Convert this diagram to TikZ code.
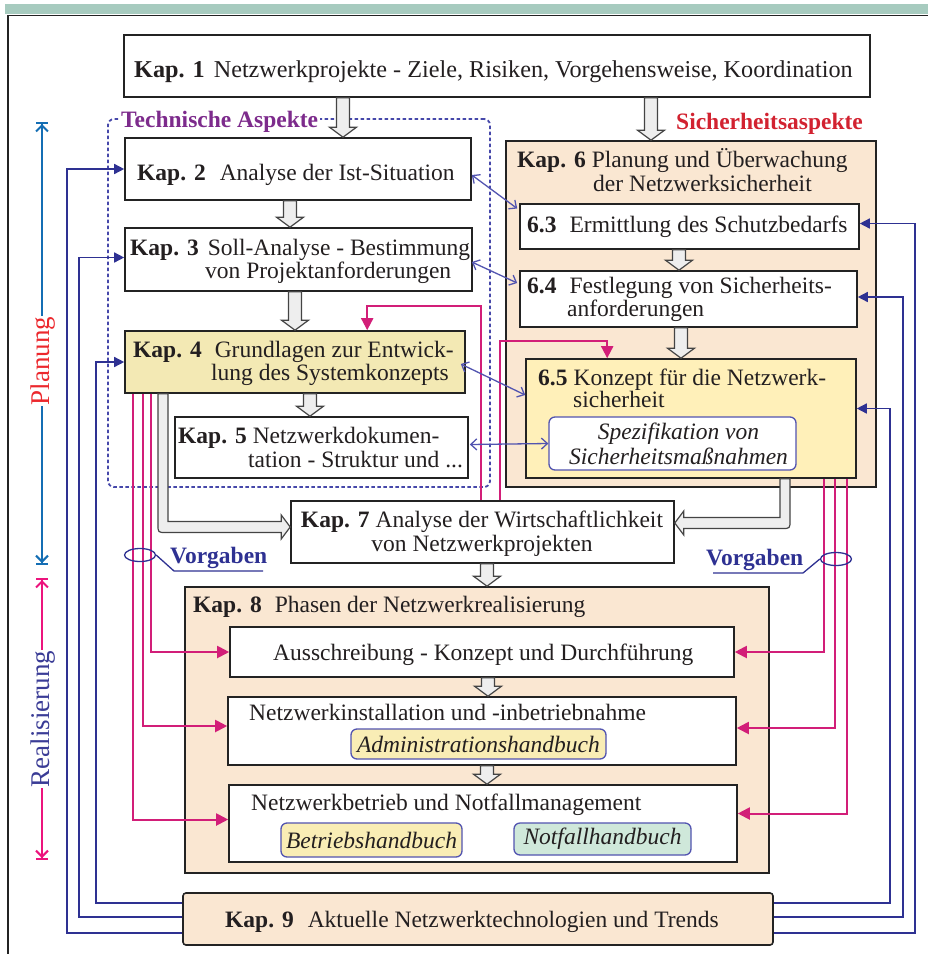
\documentclass[tikz,border=0pt]{standalone}
\usepackage{fontspec}
\setmainfont{Liberation Serif}
\usetikzlibrary{arrows.meta,calc,fit,shapes.geometric}
\definecolor{navy}{RGB}{46,49,146}
\definecolor{dblue}{RGB}{82,84,176}
\definecolor{dashc}{RGB}{70,72,170}
\definecolor{magc}{RGB}{210,30,120}
\definecolor{axblue}{RGB}{20,110,180}
\definecolor{axpink}{RGB}{236,20,125}
\definecolor{plred}{RGB}{236,40,45}
\definecolor{renavy}{RGB}{58,60,150}
\definecolor{purp}{RGB}{125,43,140}
\definecolor{sred}{RGB}{210,34,48}
\definecolor{peach}{RGB}{250,231,210}
\definecolor{khaki}{RGB}{243,233,180}
\definecolor{lyell}{RGB}{255,240,185}
\definecolor{hbyell}{RGB}{249,237,181}
\definecolor{mint}{RGB}{207,232,218}
\definecolor{band}{RGB}{167,203,191}
\definecolor{blkfill}{RGB}{238,238,238}
\definecolor{edge}{RGB}{35,35,35}
\definecolor{txt}{RGB}{35,31,32}
\newcommand\vblk[3]{\draw[blk] let \p1=(#2), \p2=(#3) in (#1pt-6.5pt,\y1) -- (#1pt+6.5pt,\y1) -- (#1pt+6.5pt,\y2+10pt) -- (#1pt+13.5pt,\y2+10pt) -- (#1pt,\y2) -- (#1pt-13.5pt,\y2+10pt) -- (#1pt-6.5pt,\y2+10pt) -- cycle;}
\begin{document}
\begin{tikzpicture}[x=1pt,y=-1pt,font=\fontsize{23.5}{24}\selectfont,text=txt,
 box/.style={draw=edge,line width=1.6pt,inner sep=0pt,fill=white},
 hb/.style={draw=dblue,line width=1.3pt,rounded corners=6pt,inner sep=0pt,font=\fontsize{23.5}{25}\selectfont\itshape,align=center},
 lbl/.style={anchor=base west,inner sep=0pt},
 nav/.style={draw=navy,line width=1.5pt,-{Triangle[length=10pt,width=10pt]}},
 magl/.style={draw=magc,line width=2pt,-{Triangle[length=12pt,width=12pt]}},
 dbl/.style={draw=dblue,line width=1.3pt,{Straight Barb[length=6pt,width=11pt]}-{Straight Barb[length=6pt,width=11pt]}},
 blk/.style={draw=edge!85,fill=blkfill,line width=1.2pt,line join=miter},
 vg/.style={anchor=base west,inner sep=0pt,text=navy,font=\fontsize{23.5}{24}\selectfont\bfseries}]
\useasboundingbox (0,0) rectangle (928,954);
% background frame
\fill[band] (5,4) rectangle (928,14);
\draw[edge,line width=1.5pt] (8,954) -- (8,15.5) -- (928,15.5);
% technical aspects region
\node[fit={(108,119) (490,487)},inner sep=0pt,draw=dashc,dash pattern=on 3.5pt off 2.5pt,line width=1.8pt,rounded corners=6pt] (tech) {};
% boxes
\node[box,fit={(124,35) (870,97)}] (k1) {};
\node[box,fit={(125,138) (471,200)}] (k2) {};
\node[box,fit={(125,228) (472,291)}] (k3) {};
\node[box,fill=khaki,fit={(125,331) (465,393)}] (k4) {};
\node[box,fit={(175,417) (468,478)}] (k5) {};
\node[box,fill=peach,fit={(506,141) (876,487)}] (k6) {};
\node[box,fit={(520,204) (859,249)}] (k63) {};
\node[box,fit={(520,271) (857,327)}] (k64) {};
\node[box,fill=lyell,fit={(526,359) (856,478)}] (k65) {};
\node[hb,fill=white,minimum width=247pt,minimum height=53pt] (spec) at (672.5,443.5) {\hspace*{12pt}Spezifikation von\\\hspace*{12pt}Sicherheitsmaßnahmen};
\node[box,fit={(291,501) (674,563)}] (k7) {};
\node[box,fill=peach,fit={(185,587) (769,873)}] (k8) {};
\node[box,fit={(230,627) (734,677)}] (s1) {};
\node[box,fit={(228,697) (736,765)}] (s2) {};
\node[box,fit={(229,785) (737,862)}] (s3) {};
\node[hb,fill=hbyell,minimum width=255pt,minimum height=30pt] (adm) at (478.5,744) {Administrationshandbuch};
\node[hb,fill=hbyell,minimum width=181pt,minimum height=34pt] (betr) at (371.5,840) {Betriebshandbuch};
\node[hb,fill=mint,minimum width=177pt,minimum height=32pt] (notf) at (602.5,839) {Notfallhandbuch};
\node[box,fill=peach,rounded corners=3pt,fit={(183,893) (773,945)}] (k9) {};
% block arrows
\vblk{343}{k1.south}{k2.north}
\vblk{651}{k1.south}{k6.north}
\vblk{290}{k2.south}{k3.north}
\vblk{295}{k3.south}{k4.north}
\vblk{310}{k4.south}{k5.north}
\vblk{679}{k63.south}{k64.north}
\vblk{681}{k64.south}{k65.north}
\vblk{487}{k7.south}{k8.north}
\vblk{488}{s1.south}{s2.north}
\vblk{487}{s2.south}{s3.north}
\draw[blk] let \p1=(k4.south), \p2=($(k7.west)+(0,-5)$) in
 (168pt,\y1) -- (168pt,\y2+5.5pt) -- (\x2-9pt,\y2+5.5pt) -- (\x2-9pt,\y2+12pt) -- (\x2,\y2) -- (\x2-9pt,\y2-12pt) -- (\x2-9pt,\y2-5.5pt) -- (166pt,\y2-5.5pt) .. controls (158pt,\y2-5.5pt) .. (158pt,\y2+2.5pt) -- (158pt,\y1) -- cycle;
\draw[blk] let \p1=(k65.south), \p2=($(k7.east)+(0,-9)$) in
 (780pt,\y1) -- (780pt,\y2+5.5pt) -- (\x2+9pt,\y2+5.5pt) -- (\x2+9pt,\y2+12pt) -- (\x2,\y2) -- (\x2+9pt,\y2-12pt) -- (\x2+9pt,\y2-5.5pt) -- (782pt,\y2-5.5pt) .. controls (790pt,\y2-5.5pt) .. (790pt,\y2+2.5pt) -- (790pt,\y1) -- cycle;
% navy feedback lines from Kap 9
\draw[nav] ($(k9.west)+(0,14)$) -| ($(k2.west)+(-57,0)$) -- (k2.west);
\draw[nav] ($(k9.west)+(0,-2)$) -| ($(k3.west)+(-45,-2)$) -- ($(k3.west)+(0,-2)$);
\draw[nav] ($(k9.west)+(0,-16)$) -| ($(k4.west)+(-28,0)$) -- (k4.west);
\draw[nav] ($(k9.east)+(0,-16)$) -| ($(k65.east)+(33,-10)$) -- ($(k65.east)+(0,-10)$);
\draw[nav] ($(k9.east)+(0,-2)$) -| ($(k64.east)+(45,-2)$) -- ($(k64.east)+(0,-2)$);
\draw[nav] ($(k9.east)+(0,14)$) -| ($(k63.east)+(55,-3)$) -- ($(k63.east)+(0,-3)$);
% magenta lines (Vorgaben)
\draw[magl] ($(k4.south west)+(27,0)$) |- (s1.west);
\draw[magl] ($(k4.south west)+(19,0)$) |- ($(s2.west)+(0,-5)$);
\draw[magl] ($(k4.south west)+(9,0)$) |- ($(s3.west)+(0,-4)$);
\draw[magl] ($(k65.south west)+(299,0)$) |- (s1.east);
\draw[magl] ($(k65.south west)+(310,0)$) |- ($(s2.east)+(0,-3)$);
\draw[magl] ($(k65.south west)+(322,0)$) |- ($(s3.east)+(0,-10)$);
\draw[magl] ($(k7.north west)+(191,0)$) |- ($(k4.north west)+(243,-24)$) -- ($(k4.north west)+(243,0)$);
\draw[magl] ($(k7.north west)+(210,0)$) |- ($(k65.north west)+(82,-17)$) -- ($(k65.north west)+(82,0)$);
% double arrows
\draw[dbl] ($(k2.east)+(0,6)$) -- ($(k63.west)+(-2,-18)$);
\draw[dbl] ($(k3.east)+(-1,2.5)$) -- ($(k64.west)+(-2,-16)$);
\draw[dbl] ($(k4.east)+(-5,2)$) -- ($(k65.west)+(0,-23.5)$);
\draw[dbl] ($(k5.east)+(1,-3)$) -- (spec.west);
% Vorgaben callouts
\node[ellipse,draw=navy,line width=1.3pt,minimum width=31pt,minimum height=13pt,inner sep=0pt] (ovL) at (140,555) {};
\node[ellipse,draw=navy,line width=1.3pt,minimum width=31pt,minimum height=13pt,inner sep=0pt] (ovR) at (836,559) {};
\node[vg] (vgL) at (170,563) {Vorgaben};
\node[vg] (vgR) at (706,565) {Vorgaben};
\draw[navy,line width=1.3pt] (ovL.east) -- (174,571) -- (263,571);
\draw[navy,line width=1.3pt] (ovR.west) -- (803,573) -- (713,573);
% phase axis
\coordinate (plT) at (42,122); \coordinate (plB) at (42,565);
\coordinate (reT) at (42,578); \coordinate (reB) at (42,860);
\draw[axblue,line width=2pt,{Bar[width=12pt]Straight Barb[length=6pt,width=12pt]}-{Straight Barb[length=6pt,width=12pt]Bar[width=12pt]}] (plT) -- (plB);
\draw[axpink,line width=2pt,{Bar[width=12pt]Straight Barb[length=6pt,width=12pt]}-{Straight Barb[length=6pt,width=12pt]Bar[width=12pt]}] (reT) -- (reB);
\node[rotate=90,fill=white,inner sep=1pt,text=plred,font=\fontsize{27}{27}\selectfont] (plan) at (43,361) {Planung};
\node[rotate=90,fill=white,inner sep=1pt,text=renavy,font=\fontsize{27}{27}\selectfont] (real) at (43,719) {Realisierung};
% headings
\node[lbl,fill=white,inner xsep=2pt,text=purp,font=\fontsize{23.5}{24}\selectfont\bfseries] (ta) at (119,127) {Technische Aspekte};
\node[lbl,text=sred,font=\fontsize{23.5}{24}\selectfont\bfseries] (sa) at (676,129) {Sicherheitsaspekte};
% box texts
\node[lbl,font=\fontsize{24.2}{25}\selectfont] (t1) at (134,77) {\textbf{Kap. 1}\hspace{9pt}Netzwerkprojekte - Ziele, Risiken, Vorgehensweise, Koordination};
\node[lbl] (t2) at (137,180) {\textbf{Kap. 2}\hspace{14pt}Analyse der Ist-Situation};
\node[lbl] (t3a) at (130,255) {\textbf{Kap. 3}\hspace{9pt}Soll-Analyse - Bestimmung};
\node[lbl] (t3b) at (205,278) {von Projektanforderungen};
\node[lbl] (t4a) at (133,357) {\textbf{Kap. 4}\hspace{13pt}Grundlagen zur Entwick-};
\node[lbl] (t4b) at (211,380) {lung des Systemkonzepts};
\node[lbl] (t5a) at (178,443) {\textbf{Kap. 5}\hspace{6pt}Netzwerkdokumen-};
\node[lbl] (t5b) at (248,467) {tation - Struktur und ...};
\node[lbl] (t6a) at (517,167) {\textbf{Kap. 6}\hspace{6pt}Planung und Überwachung};
\node[lbl] (t6b) at (593,191) {der Netzwerksicherheit};
\node[lbl] (t63) at (527,232) {\textbf{6.3}\hspace{13pt}Ermittlung des Schutzbedarfs};
\node[lbl] (t64a) at (527,293) {\textbf{6.4}\hspace{13pt}Festlegung von Sicherheits-};
\node[lbl] (t64b) at (567,316) {anforderungen};
\node[lbl] (t65a) at (538,385) {\textbf{6.5}\hspace{6pt}Konzept für die Netzwerk-};
\node[lbl] (t65b) at (573,407) {sicherheit};
\node[anchor=base,inner sep=0pt] (t7a) at (482,527) {\textbf{Kap. 7}\hspace{6pt}Analyse der Wirtschaftlichkeit};
\node[anchor=base,inner sep=0pt] (t7b) at (482,551) {von Netzwerkprojekten};
\node[lbl] (t8) at (193,612) {\textbf{Kap. 8}\hspace{13pt}Phasen der Netzwerkrealisierung};
\node[lbl] (ts1) at (273,660) {Ausschreibung - Konzept und Durchführung};
\node[lbl] (ts2) at (249,720) {Netzwerkinstallation und -inbetriebnahme};
\node[lbl] (ts3) at (251,810) {Netzwerkbetrieb und Notfallmanagement};
\node[lbl] (t9) at (225,927) {\textbf{Kap. 9}\hspace{14pt}Aktuelle Netzwerktechnologien und Trends};
\end{tikzpicture}
\end{document}
